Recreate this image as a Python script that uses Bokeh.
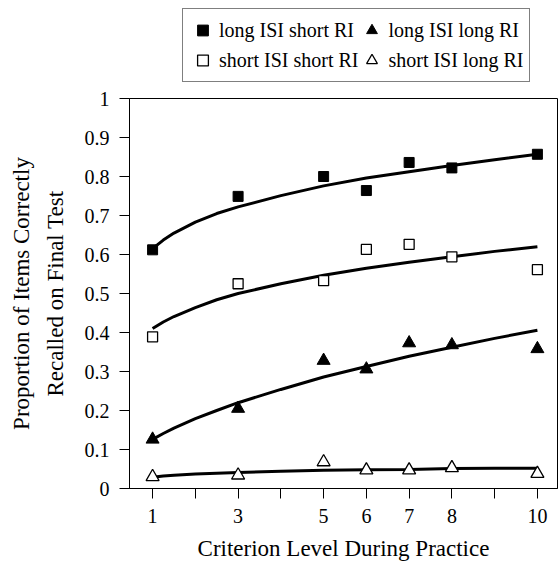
from bokeh.plotting import figure
from bokeh.layouts import column
from bokeh.models import Legend, LegendItem, FixedTicker, Range1d
from bokeh.embed import file_html
from bokeh.resources import INLINE

# ---- data ----
criterion = [1, 3, 5, 6, 7, 8, 10]
long_isi_short_ri = [0.612, 0.749, 0.800, 0.764, 0.836, 0.822, 0.857]
short_isi_short_ri = [0.389, 0.525, 0.533, 0.613, 0.626, 0.594, 0.561]
long_isi_long_ri = [0.126, 0.205, 0.328, 0.306, 0.373, 0.368, 0.358]
short_isi_long_ri = [0.030, 0.034, 0.068, 0.047, 0.047, 0.053, 0.038]

fit_x = [1, 1.25, 1.5, 2, 2.5, 3, 4, 5, 6, 7, 8, 9, 10]
fit_long_short = [0.615, 0.637, 0.655, 0.683, 0.705, 0.722, 0.751, 0.776, 0.796, 0.812, 0.828, 0.843, 0.857]
fit_short_short = [0.410, 0.427, 0.441, 0.464, 0.484, 0.500, 0.525, 0.547, 0.565, 0.580, 0.594, 0.608, 0.620]
fit_long_long = [0.126, 0.141, 0.155, 0.179, 0.200, 0.220, 0.254, 0.286, 0.313, 0.339, 0.362, 0.385, 0.406]
fit_short_long = [0.029, 0.032, 0.034, 0.037, 0.039, 0.041, 0.044, 0.047, 0.048, 0.049, 0.051, 0.052, 0.052]

x_ticks = [1, 2, 3, 4, 5, 6, 7, 8, 9, 10]
x_labels = ["1", "", "3", "", "5", "6", "7", "8", "", "10"]
y_ticks = [0, 0.1, 0.2, 0.3, 0.4, 0.5, 0.6, 0.7, 0.8, 0.9, 1]
y_labels = ["0", "0.1", "0.2", "0.3", "0.4", "0.5", "0.6", "0.7", "0.8", "0.9", "1"]

labels = ["long ISI short RI", "short ISI short RI", "long ISI long RI", "short ISI long RI"]
series = [long_isi_short_ri, short_isi_short_ri, long_isi_long_ri, short_isi_long_ri]

FONT = "Liberation Serif"

styles = [
    dict(marker="square", size=10, fill_color="black", line_color="black"),
    dict(marker="square", size=10, fill_color="white", line_color="black", line_width=1.3),
    dict(marker="triangle", size=13, fill_color="black", line_color="black"),
    dict(marker="triangle", size=13, fill_color="white", line_color="black", line_width=1.3),
]

# ---- main chart ----
p = figure(width=558, height=479, output_backend="svg", toolbar_location=None,
           x_range=Range1d(0.46, 10.47), y_range=Range1d(0, 1),
           min_border_left=129, min_border_right=1, min_border_top=14, min_border_bottom=66)
p.background_fill_color = "white"
p.border_fill_color = "white"
p.outline_line_color = "black"
p.outline_line_width = 1
p.xgrid.visible = False
p.ygrid.visible = False

for ax in (p.xaxis[0], p.yaxis[0]):
    ax.axis_line_color = "black"
    ax.major_tick_line_color = "black"
    ax.major_tick_in = 0
    ax.major_tick_out = 10
    ax.minor_tick_line_color = None
    ax.major_label_text_font = FONT
    ax.major_label_text_font_size = "20px"
    ax.major_label_text_color = "black"
    ax.axis_label_text_font = FONT
    ax.axis_label_text_font_style = "normal"
    ax.axis_label_text_font_size = "23px"
    ax.axis_label_text_color = "black"

p.xaxis.ticker = FixedTicker(ticks=x_ticks)
p.xaxis.major_label_overrides = dict(zip(x_ticks, x_labels))
p.yaxis.ticker = FixedTicker(ticks=y_ticks)
p.yaxis.major_label_overrides = dict(zip(y_ticks, y_labels))
p.xaxis.axis_label = "Criterion Level During Practice"
p.yaxis.axis_label = "Proportion of Items Correctly\nRecalled on Final Test"
p.yaxis.axis_label_text_line_height = 1.35
p.xaxis.major_label_standoff = 10
p.xaxis.axis_label_standoff = 10
p.yaxis.major_label_standoff = 10
p.yaxis.axis_label_standoff = 14

for fy in (fit_long_short, fit_short_short, fit_long_long, fit_short_long):
    p.line(fit_x, fy, line_color="black", line_width=3)

for ys, st in zip(series, styles):
    p.scatter(criterion, ys, **st)

# ---- legend strip above the chart (its frame is aligned with the chart's) ----
lg = figure(width=558, height=84, output_backend="svg", toolbar_location=None,
            x_range=Range1d(0.46, 10.47), y_range=Range1d(5, 6),
            x_axis_location=None, y_axis_location=None,
            min_border_left=129, min_border_right=1, min_border_top=0, min_border_bottom=0)
lg.outline_line_color = None
lg.xgrid.visible = False
lg.ygrid.visible = False
lg.border_fill_color = "white"
lg.background_fill_color = "white"
items = []
for lab, ys, st in zip(labels, series, styles):
    r = lg.scatter(criterion, ys, **st)   # data lie outside this strip's range
    items.append(LegendItem(label=lab, renderers=[r]))

legend = Legend(items=items, location=(53, 2), orientation="vertical", nrows=2)
legend.label_text_font = FONT
legend.label_text_font_size = "20px"
legend.label_text_color = "black"
legend.border_line_color = "black"
legend.border_line_width = 1
legend.background_fill_color = "white"
legend.background_fill_alpha = 1
legend.padding = 6
legend.spacing = 0
legend.margin = 0
legend.label_height = 30
legend.glyph_height = 30
legend.glyph_width = 27
legend.label_standoff = 3
lg.add_layout(legend, "center")

layout = column(lg, p, spacing=0)
open("out.html", "w").write(file_html(layout, INLINE))
